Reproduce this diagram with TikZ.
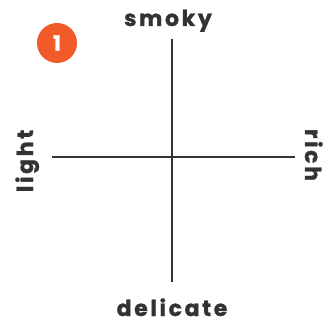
\documentclass[tikz,border=0pt]{standalone}
\usepackage{fontspec}
\setmainfont{Poppins}[BoldFeatures={FakeBold=1.2}]
\usepackage{tikz}
\usetikzlibrary{positioning,calc}
\definecolor{axisgray}{HTML}{333333}
\definecolor{badgeorange}{HTML}{f15a29}
\tikzset{
  axislabel/.style={font=\fontsize{22}{24}\selectfont\bfseries\addfontfeature{LetterSpace=12},text=axisgray,inner sep=0pt},
  axisline/.style={draw=axisgray,line width=2.3pt}
}

\begin{document}
\begin{tikzpicture}[x=1pt,y=-1pt]
      \useasboundingbox (0,0) rectangle (329,323);
      % Badge
      \node[circle,fill=badgeorange,minimum size=40pt,inner sep=0pt,text=white,font=\fontsize{21}{22}\selectfont\bfseries] (badge) at (57,43) {1};
      % Axes
      \coordinate (top) at (172,39);
      \coordinate (bottom) at (172,282);
      \coordinate (left) at (52,157);
      \coordinate (right) at (295,157);
      \draw[axisline] (top) -- (bottom);
      \draw[axisline] (left) -- (right);
      % Labels
      \node[axislabel,anchor=base] (smoky) at (168,26) {smoky};
      \node[axislabel,anchor=base] (delicate) at (172,316) {delicate};
      \node[axislabel,anchor=base,rotate=90] (light) at (33,161) {light};
      \node[axislabel,anchor=base,rotate=-90] (rich) at (305,155) {rich};
    \end{tikzpicture}
\end{document}
